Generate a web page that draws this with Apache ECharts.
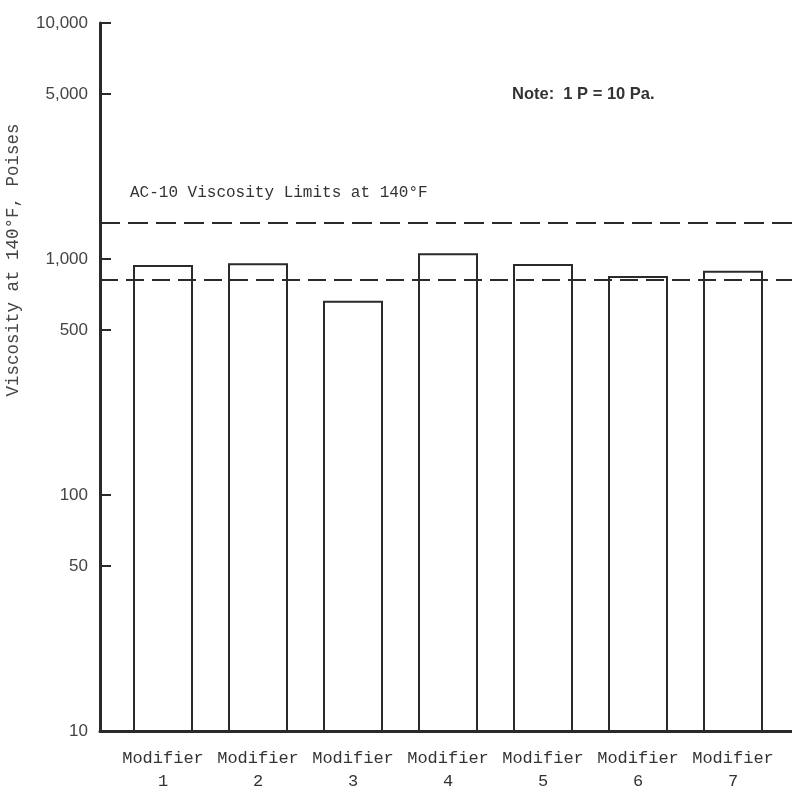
<!DOCTYPE html>
<html>
<head>
<meta charset="utf-8">
<script src="https://cdn.jsdelivr.net/npm/echarts@6/dist/echarts.min.js"></script>
<style>html,body{margin:0;padding:0;background:#fff}#c{width:792px;height:792px}</style>
</head>
<body>
<div id="c"></div>
<script>
const categories = ["Modifier\n1","Modifier\n2","Modifier\n3","Modifier\n4","Modifier\n5","Modifier\n6","Modifier\n7"];
const viscosity = [943, 959, 666, 1057, 952, 847, 892];
const limitUpper = 1420;
const limitLower = 815;
const yTickValues = [10, 50, 100, 500, 1000, 5000, 10000];
const yTickLabels = ["10","50","100","500","1,000","5,000","10,000"];

const ink = '#2a2a2a';
const chart = echarts.init(document.getElementById('c'));
const labelMap = {};
yTickValues.forEach((v,i)=>labelMap[v]=yTickLabels[i]);

chart.setOption({
  animation: false,
  backgroundColor: '#fff',
  grid: [
    {left: 100, right: 0, top: 23, bottom: 61, outerBoundsMode: 'none', containLabel: false},
    {left: 115.5, right: 11.5, top: 23, bottom: 61, outerBoundsMode: 'none', containLabel: false}
  ],
  xAxis: [
    {type: 'value', gridIndex: 0, min: 0, max: 1,
     axisLine: {show: true, onZero: false, lineStyle: {color: ink, width: 3}},
     axisTick: {show: false}, axisLabel: {show: false}, splitLine: {show: false}},
    {type: 'category', gridIndex: 1, data: categories,
     axisLine: {show: false}, axisTick: {show: false}, splitLine: {show: false},
     axisLabel: {margin: 16, fontFamily: 'Liberation Mono', fontSize: 17, color: '#333', lineHeight: 23, interval: 0}}
  ],
  yAxis: [
    {type: 'log', gridIndex: 0, min: 10, max: 10000, logBase: 10,
     axisLine: {show: true, lineStyle: {color: ink, width: 3}},
     axisTick: {show: true, inside: true, length: 11, lineStyle: {color: ink, width: 2}, customValues: yTickValues},
     axisLabel: {show: true, margin: 12, fontFamily: 'Liberation Sans', fontSize: 17, color: '#444',
       customValues: yTickValues, formatter: v => labelMap[Math.round(v)] || ''},
     splitLine: {show: false}},
    {type: 'log', gridIndex: 1, min: 10, max: 10000, logBase: 10, show: false}
  ],
  graphic: [
    {type: 'text', x: 13, y: 260, rotation: Math.PI / 2,
     style: {text: 'Viscosity at 140\u00B0F, Poises', font: '17.5px "Liberation Mono"', fill: '#444', align: 'center', verticalAlign: 'middle'}},
    {type: 'text', left: 130, top: 185, style: {text: 'AC-10 Viscosity Limits at 140\u00B0F', font: '16px "Liberation Mono"', fill: '#333'}},
    {type: 'text', left: 512, top: 86, style: {text: 'Note:  1 P = 10 Pa.', font: 'bold 16.5px "Liberation Sans"', fill: '#333'}}
  ],
  series: [
    {type: 'line', xAxisIndex: 0, yAxisIndex: 0, data: [[0, limitUpper],[1, limitUpper]], symbol: 'none',
     lineStyle: {color: ink, width: 2, type: [20, 8]}},
    {type: 'line', xAxisIndex: 0, yAxisIndex: 0, data: [[0, limitLower],[1, limitLower]], symbol: 'none',
     lineStyle: {color: ink, width: 2, type: [18, 8]}},
    {type: 'bar', xAxisIndex: 1, yAxisIndex: 1, data: viscosity, barWidth: 60,
     itemStyle: {color: 'rgba(255,255,255,0)', borderColor: ink, borderWidth: 2}}
  ]
});
</script>
</body>
</html>
